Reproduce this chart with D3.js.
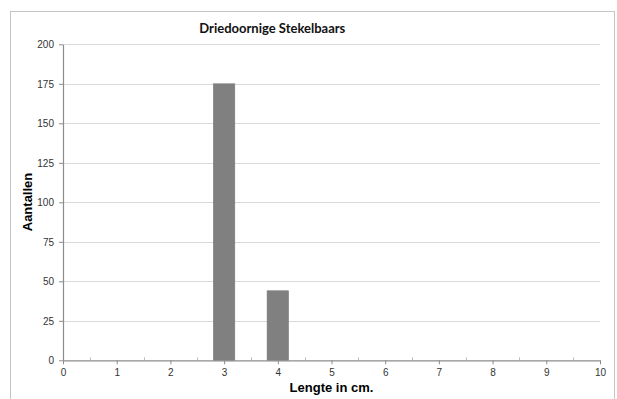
<!DOCTYPE html>
<html>
<head>
<meta charset="utf-8">
<script src="https://cdn.jsdelivr.net/npm/d3@7"></script>
<style>
  html, body { margin: 0; padding: 0; background: #fff; }
  svg { display: block; }
</style>
</head>
<body>
<svg id="chart" width="617" height="399"></svg>
<script>
// Lengths (cm) and counts of three-spined sticklebacks
const lengths = [3, 4];
const counts = [175, 44];
const xTicks = [0, 1, 2, 3, 4, 5, 6, 7, 8, 9, 10];
const yTicks = [0, 25, 50, 75, 100, 125, 150, 175, 200];
const title = "Driedoornige Stekelbaars";
const xTitle = "Lengte in cm.";
const yTitle = "Aantallen";

const svg = d3.select("#chart");
const plot = { left: 63, right: 600, top: 44.3, bottom: 360.3 };

const x = d3.scaleLinear().domain([0, 10]).range([plot.left, plot.right]);
const y = d3.scaleLinear().domain([0, 200]).range([plot.bottom, plot.top]);

// outer chart frame (cut off at the bottom edge)
svg.append("rect")
  .attr("x", 10.5).attr("y", 11.5)
  .attr("width", 604).attr("height", 400)
  .attr("fill", "none").attr("stroke", "#c4c4c4").attr("stroke-width", 1);

// horizontal gridlines
svg.append("g").selectAll("line")
  .data(yTicks.filter(d => d > 0))
  .join("line")
  .attr("x1", plot.left).attr("x2", plot.right)
  .attr("y1", d => Math.round(y(d)) + 0.5).attr("y2", d => Math.round(y(d)) + 0.5)
  .attr("stroke", "#d9d9d9").attr("stroke-width", 1.2);

// bars
const barW = 21.4;
svg.append("g").selectAll("rect")
  .data(lengths.map((l, i) => ({ l, c: counts[i] })))
  .join("rect")
  .attr("x", d => x(d.l) - barW / 2)
  .attr("y", d => y(d.c))
  .attr("width", barW)
  .attr("height", d => y(0) - y(d.c))
  .attr("fill", "#808080")
  .attr("stroke", "#7a7a7a").attr("stroke-width", 0.6);

// minor ticks on the x axis (half-centimetres)
svg.append("g").selectAll("line")
  .data(d3.range(0.5, 10, 1))
  .join("line")
  .attr("x1", d => Math.round(x(d)) + 0.5).attr("x2", d => Math.round(x(d)) + 0.5)
  .attr("y1", plot.bottom - 3).attr("y2", plot.bottom)
  .attr("stroke", "#bdbdbd").attr("stroke-width", 1);

// x axis
const xAxis = svg.append("g")
  .attr("transform", `translate(0,${plot.bottom})`)
  .call(d3.axisBottom(x).tickValues(xTicks).tickFormat(d3.format("d"))
    .tickSizeInner(4).tickSizeOuter(0).tickPadding(5));

// y axis
const yAxis = svg.append("g")
  .attr("transform", `translate(${plot.left},0)`)
  .call(d3.axisLeft(y).tickValues(yTicks).tickFormat(d3.format("d"))
    .tickSizeInner(4).tickSizeOuter(0).tickPadding(5));

[xAxis, yAxis].forEach(g => {
  g.select(".domain").attr("stroke", "#8c8c8c").attr("stroke-width", 1.2);
  g.selectAll(".tick line").attr("stroke", "#8c8c8c");
  g.selectAll(".tick text")
    .attr("fill", "#333")
    .style("font-family", "'Liberation Sans', Arial, sans-serif")
    .style("font-size", "10px");
});

// chart title
svg.append("text")
  .attr("x", 272.3).attr("y", 32.7)
  .attr("text-anchor", "middle")
  .style("font-family", "Lato, 'Open Sans', sans-serif")
  .style("font-weight", "bold").style("font-size", "13px")
  .attr("fill", "#111")
  .text(title);

// axis titles
svg.append("text")
  .attr("x", x(5)).attr("y", 391.7)
  .attr("text-anchor", "middle")
  .style("font-family", "'Liberation Sans', Arial, sans-serif")
  .style("font-weight", "bold").style("font-size", "13px")
  .attr("fill", "#000")
  .text(xTitle);

svg.append("text")
  .attr("transform", "translate(32.3,202) rotate(-90)")
  .attr("text-anchor", "middle")
  .style("font-family", "'Liberation Sans', Arial, sans-serif")
  .style("font-weight", "bold").style("font-size", "13px")
  .attr("fill", "#000")
  .text(yTitle);
</script>
</body>
</html>
